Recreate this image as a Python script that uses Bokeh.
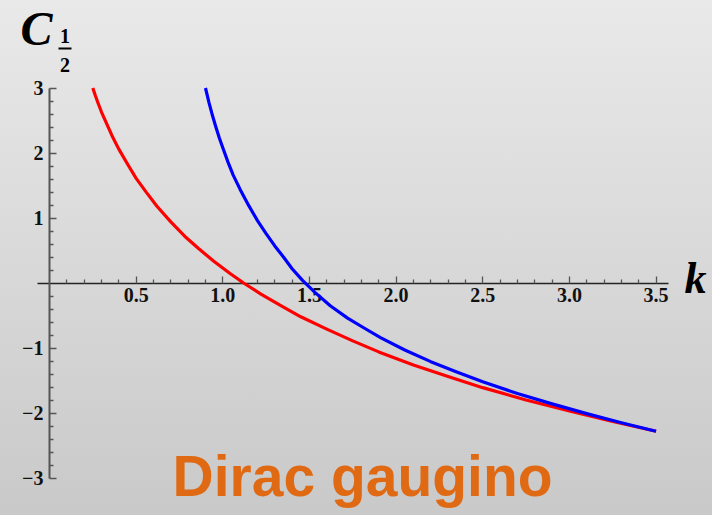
from bokeh.plotting import figure
from bokeh.models import FixedTicker, Label, Range1d
from bokeh.embed import file_html
from bokeh.resources import INLINE

# ---- data ----
red_k = [0.25, 0.265, 0.28, 0.30, 0.32, 0.34, 0.36, 0.40, 0.45, 0.50, 0.56, 0.62, 0.70,
         0.78, 0.86, 0.95, 1.04, 1.12, 1.22, 1.33, 1.45, 1.60, 1.75, 1.90, 2.10, 2.30,
         2.50, 2.75, 3.00, 3.25, 3.50]
red_c = [3.00, 2.88, 2.77, 2.63, 2.51, 2.39, 2.27, 2.06, 1.83, 1.61, 1.39, 1.18, 0.94,
         0.72, 0.53, 0.33, 0.15, 0.00, -0.17, -0.34, -0.52, -0.71, -0.89, -1.06, -1.26,
         -1.44, -1.61, -1.80, -1.97, -2.13, -2.28]

blue_k = [0.90, 0.91, 0.92, 0.94, 0.96, 0.98, 1.00, 1.03, 1.06, 1.10, 1.15, 1.20, 1.25,
          1.30, 1.35, 1.40, 1.46, 1.53, 1.62, 1.72, 1.82, 1.91, 2.05, 2.20, 2.35, 2.50,
          2.70, 2.90, 3.10, 3.30, 3.50]
blue_c = [3.00, 2.89, 2.78, 2.58, 2.40, 2.23, 2.08, 1.86, 1.66, 1.44, 1.19, 0.96, 0.76,
          0.57, 0.40, 0.22, 0.04, -0.14, -0.35, -0.54, -0.70, -0.84, -1.03, -1.21, -1.37,
          -1.52, -1.70, -1.86, -2.01, -2.15, -2.28]

x_ticks = [0.5, 1.0, 1.5, 2.0, 2.5, 3.0, 3.5]
x_tick_labels = ["0.5", "1.0", "1.5", "2.0", "2.5", "3.0", "3.5"]
y_ticks = [-3, -2, -1, 1, 2, 3]
y_tick_labels = ["\u22123", "\u22122", "\u22121", "1", "2", "3"]
x_minor = [round(0.1 * i, 1) for i in range(1, 36) if i % 5]
y_minor = [round(0.2 * i, 1) for i in range(-14, 15) if i % 5 and i != 0]

title_text = "Dirac gaugino"
x_name = "k"
y_name = "C"
y_sub_num = "1"
y_sub_den = "2"

# ---- layout (page pixels -> data) ----
W, H = 712, 515
SX, SY = 173.3, 65.0       # pixels per data unit
PX0, PY0 = 49.0, 282.5     # page pixel of the origin
def dx(px):
    return (px - PX0) / SX
def dy(py):
    return (PY0 - py) / SY

p = figure(width=W, height=H, output_backend="svg", toolbar_location=None,
           x_range=Range1d(dx(0), dx(W)), y_range=Range1d(dy(H), dy(0)),
           min_border=0, min_border_left=0, min_border_right=0,
           min_border_top=0, min_border_bottom=0,
           background_fill_alpha=0, border_fill_alpha=0, outline_line_color=None)
p.grid.visible = False

SERIF = "Liberation Serif"

xa = p.xaxis[0]
xa.fixed_location = 0
xa.ticker = FixedTicker(ticks=x_ticks, minor_ticks=x_minor)
xa.major_label_overrides = dict(zip(x_ticks, x_tick_labels))
xa.bounds = (-0.07, 3.57)
xa.axis_line_color = "#222222"
xa.axis_line_width = 1.3
xa.major_tick_in = 7
xa.major_tick_out = 0
xa.minor_tick_in = 4
xa.minor_tick_out = 0
xa.major_tick_line_color = "#555555"
xa.minor_tick_line_color = "#555555"
xa.major_tick_line_width = 1.3
xa.minor_tick_line_width = 1.3
xa.major_label_text_font = SERIF
xa.major_label_text_font_style = "bold"
xa.major_label_text_font_size = "20px"
xa.major_label_text_color = "#111111"
xa.major_label_standoff = 5
xa.level = "underlay"

ya = p.yaxis[0]
ya.fixed_location = 0
ya.ticker = FixedTicker(ticks=y_ticks, minor_ticks=y_minor)
ya.major_label_overrides = dict(zip(y_ticks, y_tick_labels))
ya.bounds = (-3, 3)
ya.axis_line_color = "#555555"
ya.axis_line_width = 2
ya.major_tick_in = 7
ya.major_tick_out = 0
ya.minor_tick_in = 4
ya.minor_tick_out = 0
ya.major_tick_line_color = "#555555"
ya.minor_tick_line_color = "#555555"
ya.major_tick_line_width = 1.3
ya.minor_tick_line_width = 1.3
ya.major_label_text_font = SERIF
ya.major_label_text_font_style = "bold"
ya.major_label_text_font_size = "20px"
ya.major_label_text_color = "#111111"
ya.major_label_standoff = 6
ya.level = "underlay"

p.line(red_k, red_c, line_color="#ff0000", line_width=3.2, line_join="round")
p.line(blue_k, blue_c, line_color="#0000ff", line_width=3.2, line_join="round")

def label(text, px, py, size, style, align="left", color="#000000", font=SERIF):
    p.add_layout(Label(x=dx(px), y=dy(py), text=text, text_font=font,
                       text_font_style=style, text_font_size=size,
                       text_color=color, text_baseline="middle", text_align=align))

# axis names (positions are glyph centres in page pixels)
label(x_name, 684, 278, "44px", "bold italic")
label(y_name, 20, 28, "48px", "bold italic")
label(y_sub_num, 64.5, 35, "20px", "bold", align="center")
label(y_sub_den, 64.5, 64, "20px", "bold", align="center")
p.segment(x0=[dx(58)], y0=[dy(48)], x1=[dx(71)], y1=[dy(48)],
          line_color="#000000", line_width=2)

label(title_text, 172, 475, "57px", "bold", color="#e06a14", font="Liberation Sans")

page_style = ("<style>html{height:100%;background:linear-gradient(#e9e9e9,#c9c9c9);}"
              "body{background:transparent;}</style></head>")
open("out.html", "w").write(file_html(p, INLINE).replace("</head>", page_style, 1))
